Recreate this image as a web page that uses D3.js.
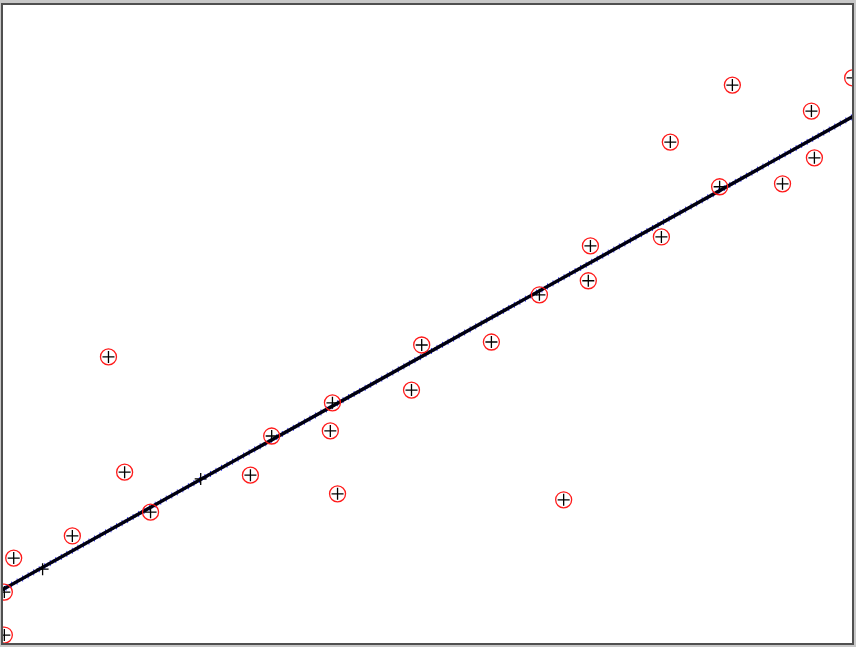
<!DOCTYPE html>
<html>
<head>
<meta charset="utf-8">
<script src="https://cdn.jsdelivr.net/npm/d3@7"></script>
<style>
  html, body { margin: 0; padding: 0; background: #c8c8c8; }
  svg { display: block; }
</style>
</head>
<body>
<script>
// Observed data points (x, y)
const xValues = [0.02, 0.02, 0.24, 1.62, 2.47, 2.85, 3.46, 5.81, 6.31, 7.69, 7.74, 7.86, 9.60, 9.84,
                 11.48, 12.61, 13.18, 13.76, 13.81, 15.48, 15.69, 16.85, 17.15, 18.33, 19.01, 19.08, 19.98];
const yValues = [0.21, 1.22, 2.02, 2.54, 6.75, 4.04, 3.10, 3.97, 4.89, 5.01, 5.67, 3.53, 5.97, 7.03,
                 7.10, 8.21, 3.39, 8.54, 9.36, 9.57, 11.80, 10.75, 13.14, 10.82, 12.53, 11.43, 13.31];
// Extra predicted markers on the fitted line
const predX = [0.92, 4.64];
const predY = [1.76, 3.88];
// Fitted line: y = intercept + slope * x
const fitIntercept = 1.29;
const fitSlope = 0.556;
const xDomain = [0, 20];
const yDomain = [0, 15];

const W = 856, H = 647;
const svg = d3.select("body").append("svg").attr("width", W).attr("height", H);

// frame
svg.append("rect").attr("x", 0).attr("y", 0).attr("width", W).attr("height", H).attr("fill", "#c8c8c8");
svg.append("rect").attr("x", 2).attr("y", 4).attr("width", 851).attr("height", 640)
  .attr("fill", "#ffffff").attr("stroke", "#505050").attr("stroke-width", 2);

const x = d3.scaleLinear().domain(xDomain).range([3.5, 853.5]);
const y = d3.scaleLinear().domain(yDomain).range([644, 6]);

svg.append("clipPath").attr("id", "clip").append("rect")
  .attr("x", 3).attr("y", 5).attr("width", 849).attr("height", 638);
const g = svg.append("g").attr("clip-path", "url(#clip)");

// blue marker samples along fit line
const fx = v => fitIntercept + fitSlope * v;
const samples = d3.range(-0.2, 20.3, 0.13);
g.selectAll("path.bm").data(samples).enter().append("path")
  .attr("d", d => {
    const cx = x(d), cy = y(fx(d));
    return `M${cx-3},${cy}H${cx+3}M${cx},${cy-3}V${cy+3}`;
  })
  .attr("stroke", "#3a3aff").attr("stroke-width", 1).attr("fill", "none");

// fitted line
const line = d3.line().x(d => x(d)).y(d => y(fx(d)));
g.append("path").datum([-0.5, 20.5]).attr("d", line)
  .attr("stroke", "#000010").attr("stroke-width", 3.4).attr("fill", "none");

// predicted markers
const plus = (cx, cy, s) => `M${cx-s},${cy}H${cx+s}M${cx},${cy-s}V${cy+s}`;
g.selectAll("path.pm").data(predX).enter().append("path")
  .attr("d", (d, i) => plus(x(d), y(predY[i]), 6))
  .attr("stroke", "#000").attr("stroke-width", 1.3).attr("fill", "none");

// data points: red circles + black plus
const pts = xValues.map((v, i) => [v, yValues[i]]);
g.selectAll("circle.dc").data(pts).enter().append("circle")
  .attr("cx", d => x(d[0])).attr("cy", d => y(d[1])).attr("r", 8)
  .attr("fill", "none").attr("stroke", "#ff1a1a").attr("stroke-width", 1.3);
g.selectAll("path.dp").data(pts).enter().append("path")
  .attr("d", d => plus(x(d[0]), y(d[1]), 6))
  .attr("stroke", "#000").attr("stroke-width", 1.3).attr("fill", "none");
</script>
</body>
</html>
